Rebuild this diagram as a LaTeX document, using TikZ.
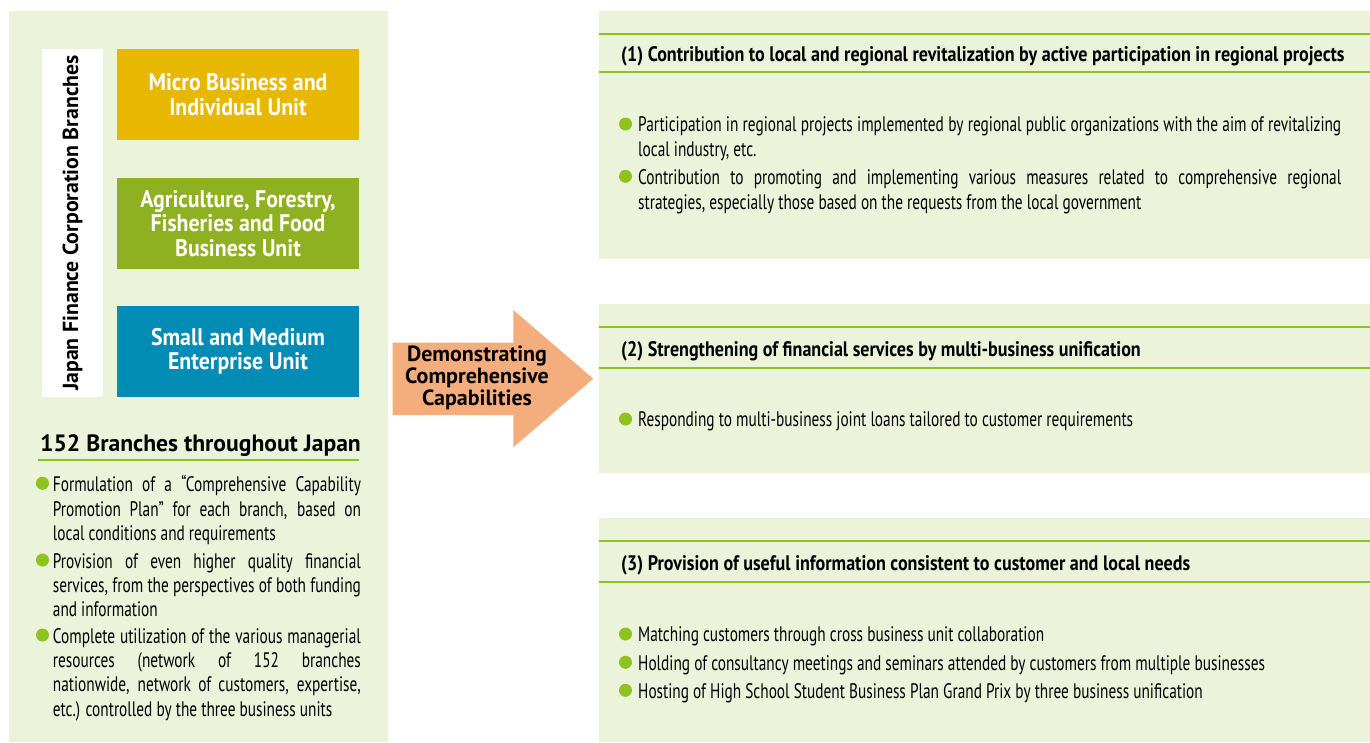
\documentclass[tikz,border=0pt]{standalone}
\usepackage{fontspec}
\setmainfont{PT Sans}
\newfontfamily\condfont[FakeStretch=0.73]{PT Sans}
\newfontfamily\headfont[FakeStretch=0.86]{PT Sans}
\newfontfamily\unitfont[FakeStretch=0.91]{PT Sans}
\usetikzlibrary{positioning}

\definecolor{panelbg}{HTML}{EBF3DA}
\definecolor{leafgreen}{HTML}{8DC21F}
\definecolor{microgold}{HTML}{E8B800}
\definecolor{agrigreen}{HTML}{8FB020}
\definecolor{smeblue}{HTML}{008CB4}
\definecolor{arrowpeach}{HTML}{F4AE7D}

\tikzset{
  unitbox/.style={minimum width=242pt, minimum height=91pt, inner sep=0pt,
    text=white, align=center, font=\unitfont\bfseries\fontsize{24}{24.5}\selectfont},
  gdot/.style={circle, fill=leafgreen, minimum size=13pt, inner sep=0pt},
  lefttext/.style={anchor=base west, text width=308pt, align=justify, inner sep=0pt,
    font=\condfont\fontsize{21}{24.3}\selectfont},
  righttext/.style={anchor=base west, text width=703pt, align=justify, inner sep=0pt,
    font=\condfont\fontsize{21}{25}\selectfont},
  bullettext/.style={anchor=base west, inner sep=0pt, font=\condfont\fontsize{21}{25}\selectfont},
  heading/.style={anchor=base west, inner sep=0pt, font=\headfont\bfseries\fontsize{21}{24}\selectfont},
  greenrule/.style={leafgreen, line width=2pt}
}

\begin{document}
\begin{tikzpicture}[x=1pt,y=-1pt]
\useasboundingbox (0,0) rectangle (1370,742);

% Left panel with the three business units
\fill[panelbg] (9,11) rectangle (388,742);
\node[fill=white, rotate=90, minimum width=348pt, minimum height=61pt, inner sep=0pt,
  font=\bfseries\fontsize{21.8}{22}\selectfont] (branches) at (72.5,223) {Japan Finance Corporation Branches};
\node[unitbox, fill=microgold] (micro) at (238,94.5) {Micro Business and\\Individual Unit};
\node[unitbox, fill=agrigreen] (agri) at (238,223.5) {Agriculture, Forestry,\\Fisheries and Food\\Business Unit};
\node[unitbox, fill=smeblue] (sme) at (238,351.5) {Small and Medium\\Enterprise Unit};

% 152 branches and the bullet list below it
\node[anchor=base west, inner sep=0pt, font=\bfseries\fontsize{23.6}{24}\selectfont] (count) at (40,451.7) {152 Branches throughout Japan};
\draw[greenrule] (37.7,460) -- (359.3,460);

\node[gdot] (plandot) at (42.5,483.3) {};
\node[lefttext] (plan) at (52.7,491.7) {Formulation of a “Comprehensive Capability\linebreak Promotion Plan” for each branch, based on\linebreak local conditions and requirements};
\node[gdot] (qualitydot) at (42.5,560) {};
\node[lefttext] (quality) at (52.7,568.3) {Provision of even higher quality financial\linebreak services, from the perspectives of both funding\linebreak and information};
\node[gdot] (resourcedot) at (42.5,635) {};
\node[lefttext] (resource) at (52.7,643.3) {Complete utilization of the various managerial\linebreak resources (network of 152 branches\linebreak nationwide, network of customers, expertise,\linebreak etc.) controlled by the three business units};

% Big arrow in the middle
\fill[arrowpeach] (392.7,342.7) -- (513.3,342.7) -- (513.3,310) -- (593.3,378.7)
  -- (513.3,447.3) -- (513.3,415) -- (392.7,415) -- cycle;
\node[align=center, inner sep=0pt, font=\bfseries\fontsize{22}{21.7}\selectfont] (demo) at (477,378) {Demonstrating\\Comprehensive\\Capabilities};

% (1) regional revitalization
\fill[panelbg] (599,11) rectangle (1370,259);
\draw[greenrule] (599,33.7) -- (1370,33.7);
\draw[greenrule] (599,71.7) -- (1370,71.7);
\node[heading] (revital) at (621,61) {(1) Contribution to local and regional revitalization by active participation in regional projects};
\node[gdot] (projectsdot) at (625.5,124) {};
\node[righttext] (projects) at (638,131.7) {Participation in regional projects implemented by regional public organizations with the aim of revitalizing\linebreak local industry, etc.};
\node[gdot] (strategydot) at (625.5,176.3) {};
\node[righttext] (strategy) at (638,184) {Contribution to promoting and implementing various measures related to comprehensive regional\linebreak strategies, especially those based on the requests from the local government};

% (2) financial services
\fill[panelbg] (599,304) rectangle (1370,472.7);
\draw[greenrule] (599,326.7) -- (1370,326.7);
\draw[greenrule] (599,368) -- (1370,368);
\node[heading] (finance) at (621,356.7) {(2) Strengthening of financial services by multi-business unification};
\node[gdot] (loansdot) at (625.5,419) {};
\node[bullettext] (loans) at (638,426.7) {Responding to multi-business joint loans tailored to customer requirements};

% (3) useful information
\fill[panelbg] (599,518) rectangle (1370,742);
\draw[greenrule] (599,540.7) -- (1370,540.7);
\draw[greenrule] (599,581.7) -- (1370,581.7);
\node[heading] (info) at (621,570) {(3) Provision of useful information consistent to customer and local needs};
\node[gdot] (matchdot) at (625.5,634) {};
\node[bullettext] (match) at (638,641.7) {Matching customers through cross business unit collaboration};
\node[gdot] (seminardot) at (625.5,662.3) {};
\node[bullettext] (seminar) at (638,670) {Holding of consultancy meetings and seminars attended by customers from multiple businesses};
\node[gdot] (prixdot) at (625.5,690.3) {};
\node[bullettext] (prix) at (638,698) {Hosting of High School Student Business Plan Grand Prix by three business unification};

\end{tikzpicture}
\end{document}
